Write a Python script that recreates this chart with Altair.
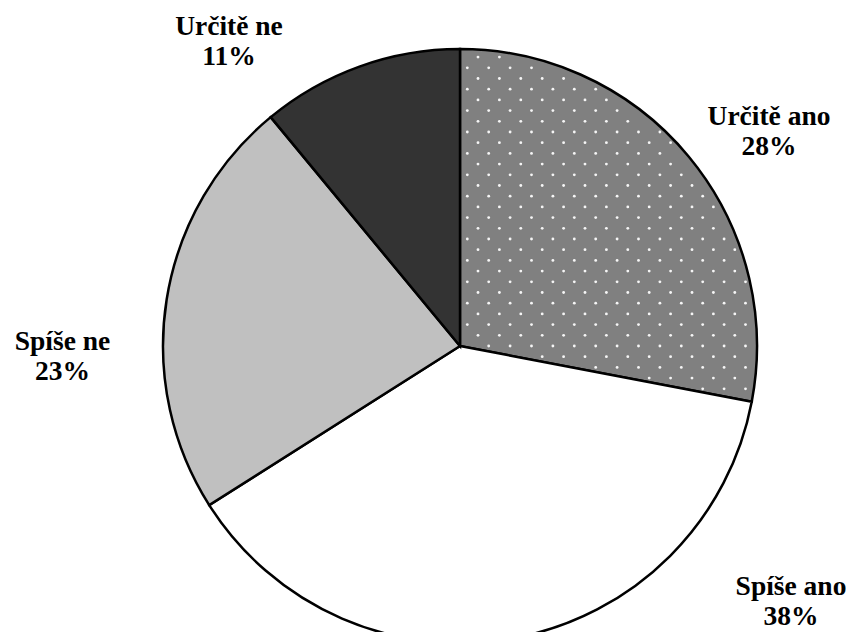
import math
import altair as alt
import pandas as pd

# ---- data ----
categories = ["Určitě ano", "Spíše ano", "Spíše ne", "Určitě ne"]
values = [28, 38, 23, 11]
label_text = ["Určitě ano\n28%", "Spíše ano\n38%", "Spíše ne\n23%", "Určitě ne\n11%"]

# ---- style / layout ----
colors = ["#808080", "#ffffff", "#c0c0c0", "#333333"]
W, H = 838, 624
CX, CY = 452, 338
R = 297
label_x = [761, 783, 54.5, 221]
label_y = [117, 587, 342, 27]

df = pd.DataFrame({"cat": categories, "value": values, "ord": list(range(len(values)))})

pie = alt.Chart(df).mark_arc(outerRadius=R, stroke="black", strokeWidth=2.5).encode(
    theta=alt.Theta("value:Q", stack=True),
    color=alt.Color("cat:N", scale=alt.Scale(domain=categories, range=colors), legend=None),
    order=alt.Order("ord:Q"),
    x=alt.value(CX),
    y=alt.value(CY),
)

# dotted texture for the first slice
end_angle = values[0] / sum(values) * 2 * math.pi
NC = 15
dots = alt.Chart(alt.sequence(0, NC * 36, as_="i")).transform_calculate(
    col=f"datum.i % {NC}",
    row=f"floor(datum.i / {NC}) - 6",
).transform_calculate(
    dx=f"7.3 + 21.4 * datum.col + (abs(datum.row) % 2 == 1 ? 10.7 : 0)",
    dy="-10.7 * datum.row",
).transform_calculate(
    px=f"{CX} + datum.dx",
    py=f"{CY} + datum.dy",
    ang="atan2(datum.dx, -datum.dy) < 0 ? atan2(datum.dx, -datum.dy) + 2*PI : atan2(datum.dx, -datum.dy)",
).transform_filter(
    f"sqrt(datum.dx*datum.dx + datum.dy*datum.dy) < {R - 4} && datum.ang <= {end_angle} "
    f"&& datum.dx > 3 && abs(datum.dx*cos({end_angle}) + datum.dy*sin({end_angle})) > 3"
).mark_circle(size=8, color="#f6f6f6", opacity=1).encode(
    x=alt.X("px:Q", scale=None, axis=None),
    y=alt.Y("py:Q", scale=None, axis=None),
)

lab = pd.DataFrame({"t": label_text, "lx": label_x, "ly": label_y})
text = alt.Chart(lab).mark_text(
    font="Liberation Serif", fontSize=27.5, fontWeight="bold", lineBreak="\n",
    lineHeight=30, align="center", baseline="alphabetic", color="black",
).encode(
    x=alt.X("lx:Q", scale=None, axis=None),
    y=alt.Y("ly:Q", scale=None, axis=None),
    text="t:N",
)

chart = alt.layer(pie, dots, text).properties(
    width=W, height=H, padding=0, autosize="none", background="white"
).configure_view(stroke=None)

chart.save("out.html", embed_options={"renderer": "svg", "actions": False})
